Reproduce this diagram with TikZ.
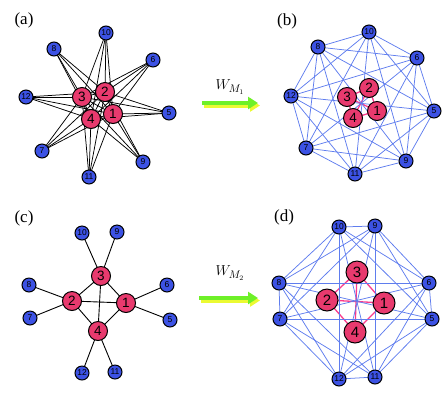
\documentclass[tikz,border=0pt]{standalone}
\usepackage{fontspec}
\setmainfont{Liberation Serif}
\newfontfamily\numfont{Liberation Sans}
\usetikzlibrary{arrows.meta,backgrounds}
\definecolor{nodered}{RGB}{232,58,110}
\definecolor{nodeblue}{RGB}{60,82,228}
\definecolor{edgeblue}{RGB}{95,125,238}
\definecolor{edgepink}{RGB}{250,60,140}
\definecolor{arrowgreen}{RGB}{110,240,40}
\definecolor{arrowyellow}{RGB}{235,250,50}
\tikzset{
  rednode/.style={circle,draw,line width=1pt,fill=nodered,inner sep=0pt,minimum size=19pt,font=\numfont\fontsize{13.5}{13.5}\selectfont},
  bluenode/.style={circle,draw,line width=1pt,fill=nodeblue,inner sep=0pt,minimum size=14pt,font=\numfont\fontsize{8.5}{8.5}\selectfont},
  panellabel/.style={font=\fontsize{17}{17}\selectfont},
  blackedge/.style={line width=0.75pt},
  blueedge/.style={edgeblue,line width=0.75pt},
  pinkedge/.style={edgepink,line width=1.3pt},
  maparrow/.style={line width=4.5pt,-{Triangle[length=10pt,width=12pt]}},
}
\begin{document}
\begin{tikzpicture}[x=1pt,y=-1pt]
\useasboundingbox (0,0) rectangle (443,400);
% panel labels
\node[panellabel] (la) at (24,20) {(a)};
\node[panellabel] (lb) at (287,21) {(b)};
\node[panellabel] (lc) at (24,218) {(c)};
\node[panellabel] (ld) at (284,217) {(d)};
% (a)
\foreach \n/\x/\y in {5/169/113,6/153/60,7/42/151,8/54/49,9/143/162,10/106/33,11/89/177,12/26/97}
  \node[bluenode] (a\n) at (\x,\y) {\n};
\foreach \n/\x/\y in {1/113/114,2/105/92,3/82/97,4/91/119}
  \node[rednode] (a\n) at (\x,\y) {\n};
% (b)
\foreach \n/\x/\y in {5/434/111,6/417/58,7/306/148,8/318/47,9/406/161,10/369/32,11/355/174,12/291/96}
  \node[bluenode] (b\n) at (\x,\y) {\n};
\foreach \n/\x/\y in {1/377/111,2/369/88,3/347/97,4/353/118}
  \node[rednode] (b\n) at (\x,\y) {\n};
% (c)
\foreach \n/\x/\y in {5/170/320,6/167/285,7/30/318,8/29/285,9/117/232,10/82/233,11/115/372,12/82/373}
  \node[bluenode] (c\n) at (\x,\y) {\n};
\foreach \n/\x/\y in {1/126/303,2/72/301,3/101/276,4/98/331}
  \node[rednode] (c\n) at (\x,\y) {\n};
% (d)
\foreach \n/\x/\y in {5/432/319,6/429/283,7/280/319,8/279/283,9/375/226,10/339/227,11/375/377,12/339/379}
  \node[bluenode] (d\n) at (\x,\y) {\n};
\foreach \n/\x/\y in {1/384/303,2/327/300,3/357/272,4/355/332}
  \node[rednode,minimum size=22pt,font=\numfont\fontsize{15}{15}\selectfont] (d\n) at (\x,\y) {\n};
% edges
\begin{scope}[on background layer]
  \foreach \r in {1,...,4}
    \foreach \b in {5,...,12}
      \draw[blackedge] (a\r.center) -- (a\b.center);
  \foreach \i/\j in {1/2,1/3,1/4,2/3,2/4,3/4}{
    \draw[blackedge] (a\i.center) -- (a\j.center);
    \draw[pinkedge] (b\i.center) -- (b\j.center);
    \draw[blackedge,line width=0.9pt] (c\i.center) -- (c\j.center);
    \draw[pinkedge] (d\i.center) -- (d\j.center);
  }
  \foreach \i/\j in {1/5,1/6,2/7,2/8,3/9,3/10,4/11,4/12}
    \draw[blackedge,line width=0.9pt] (c\i.center) -- (c\j.center);
  \foreach \i [evaluate=\i as \k using int(\i+1)] in {5,...,11}
    \foreach \j in {\k,...,12}{
      \draw[blueedge] (b\i.center) -- (b\j.center);
      \draw[blueedge] (d\i.center) -- (d\j.center);
    }
\end{scope}
% maps
\coordinate (m1s) at (202,103);
\coordinate (m1e) at (258,103);
\coordinate (m2s) at (199,298);
\coordinate (m2e) at (258,298);
\draw[maparrow,arrowyellow] ([shift={(2,2.5)}]m1s) -- ([shift={(2,2.5)}]m1e);
\draw[maparrow,arrowgreen] (m1s) -- (m1e);
\draw[maparrow,arrowyellow] ([shift={(2,2.5)}]m2s) -- ([shift={(2,2.5)}]m2e);
\draw[maparrow,arrowgreen] (m2s) -- (m2e);
\node[font=\fontsize{15}{15}\selectfont] (w1) at (230,87) {$W_{M_1}$};
\node[font=\fontsize{15}{15}\selectfont] (w2) at (230,273) {$W_{M_2}$};
\end{tikzpicture}
\end{document}
